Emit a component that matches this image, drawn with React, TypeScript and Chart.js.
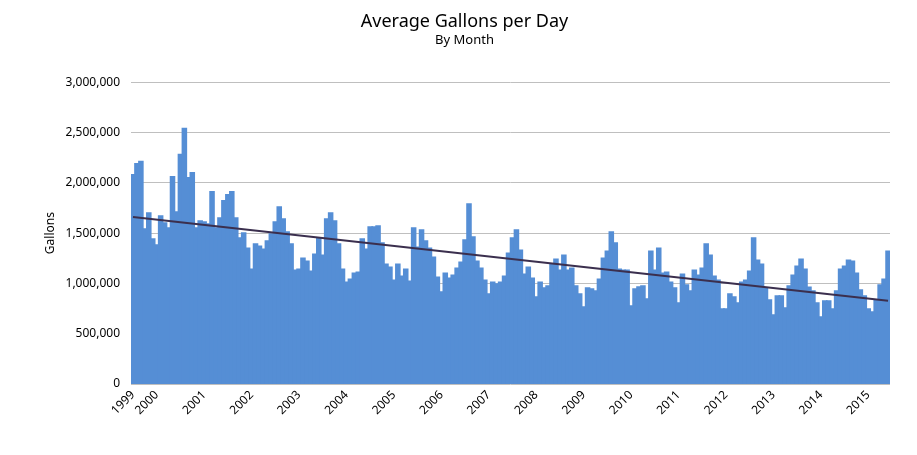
import React, { useEffect, useRef } from 'react';
import { Chart, registerables } from 'chart.js';

Chart.register(...registerables);

const startYear = 1999;
const startMonthIndex = 6; // July
const monthNames = ['Jan', 'Feb', 'Mar', 'Apr', 'May', 'Jun', 'Jul', 'Aug', 'Sep', 'Oct', 'Nov', 'Dec'];
const yearLabels = ['1999', '2000', '2001', '2002', '2003', '2004', '2005', '2006', '2007', '2008', '2009', '2010', '2011', '2012', '2013', '2014', '2015'];

const gallons = [
  2080000, 2190000, 2210000, 1540000, 1700000, 1440000,
  1380000, 1670000, 1600000, 1550000, 2060000, 1710000, 2280000, 2540000, 2050000, 2100000, 1550000, 1620000,
  1610000, 1590000, 1910000, 1550000, 1650000, 1820000, 1880000, 1910000, 1650000, 1450000, 1500000, 1350000,
  1140000, 1390000, 1370000, 1340000, 1420000, 1490000, 1610000, 1760000, 1640000, 1510000, 1390000, 1130000,
  1140000, 1250000, 1220000, 1120000, 1290000, 1450000, 1280000, 1640000, 1700000, 1620000, 1390000, 1140000,
  1010000, 1040000, 1100000, 1110000, 1440000, 1340000, 1560000, 1560000, 1570000, 1400000, 1190000, 1160000,
  1030000, 1190000, 1070000, 1140000, 1020000, 1550000, 1360000, 1530000, 1420000, 1350000, 1260000, 1060000,
  915000, 1100000, 1050000, 1080000, 1150000, 1210000, 1430000, 1790000, 1460000, 1220000, 1150000, 1030000,
  895000, 1010000, 994000, 1010000, 1070000, 1300000, 1450000, 1530000, 1330000, 1090000, 1160000, 1050000,
  865000, 1010000, 954000, 974000, 1190000, 1240000, 1130000, 1280000, 1130000, 1150000, 974000, 895000,
  765000, 954000, 944000, 924000, 1040000, 1250000, 1320000, 1510000, 1400000, 1140000, 1130000, 1130000,
  775000, 944000, 964000, 974000, 845000, 1320000, 1130000, 1350000, 1100000, 1110000, 1010000, 954000,
  805000, 1090000, 984000, 924000, 1130000, 1080000, 1150000, 1390000, 1280000, 1070000, 1030000, 745000,
  745000, 895000, 865000, 805000, 1010000, 1030000, 1120000, 1450000, 1230000, 1190000, 954000, 835000,
  686000, 875000, 875000, 755000, 974000, 1080000, 1170000, 1240000, 1140000, 960000, 925000, 805000,
  666000, 825000, 825000, 745000, 924000, 1140000, 1170000, 1230000, 1220000, 1100000, 934000, 875000,
  745000, 716000, 835000, 984000, 1040000, 1320000,
];

const trendStart = 1660000;
const trendEnd = 828000;

const yMin = 0;
const yMax = 3000000;
const yStep = 500000;

const categories = gallons.map((_, i) => {
  const m = (startMonthIndex + i) % 12;
  const y = startYear + Math.floor((startMonthIndex + i) / 12);
  return `${monthNames[m]} ${y}`;
});

const trendData = gallons.map((_, i) =>
  i === 0 ? trendStart : i === gallons.length - 1 ? trendEnd : null
);

export default function App() {
  const canvasRef = useRef<HTMLCanvasElement | null>(null);

  useEffect(() => {
    document.body.style.margin = '0';
    const canvas = canvasRef.current;
    if (!canvas) return;
    const font = "'Noto Sans', sans-serif";
    const chart = new Chart(canvas, {
      type: 'bar',
      data: {
        labels: categories,
        datasets: [
          {
            type: 'line',
            label: 'Trend',
            data: trendData,
            borderColor: '#3B2F4E',
            borderWidth: 2,
            pointRadius: 0,
            spanGaps: true,
            fill: false,
            order: 0,
          } as any,
          {
            type: 'bar',
            label: 'Average Gallons per Day',
            data: gallons,
            backgroundColor: '#558ED5',
            borderWidth: 0,
            inflateAmount: 0.8,
            categoryPercentage: 1,
            barPercentage: 1,
            order: 1,
          } as any,
        ],
      },
      options: {
        animation: false,
        responsive: false,
        devicePixelRatio: 1,
        layout: { padding: { left: 39, right: 27, top: 0, bottom: 0 } },
        plugins: {
          legend: { display: false },
          tooltip: { enabled: false },
          title: {
            display: true,
            text: 'Average Gallons per Day',
            color: '#000',
            font: { family: font, size: 18, weight: 'normal' },
            padding: { top: 11, bottom: 0 },
          },
          subtitle: {
            display: true,
            text: 'By Month',
            color: '#000',
            font: { family: font, size: 13, weight: 'normal' },
            padding: { top: 0, bottom: 34 },
          },
        },
        scales: {
          x: {
            offset: true,
            grid: { display: false, drawTicks: false },
            border: { display: false },
            ticks: {
              autoSkip: false,
              minRotation: 45,
              maxRotation: 45,
              padding: 4,
              color: '#000',
              font: { family: font, size: 12 },
              callback: (_v: any, i: number) => {
                const m = (startMonthIndex + i) % 12;
                const y = startYear + Math.floor((startMonthIndex + i) / 12);
                return i === 0 || m === 0 ? yearLabels[y - startYear] : '';
              },
            },
            afterFit: (s: any) => {
              s.height = 71;
            },
          },
          y: {
            min: yMin,
            max: yMax,
            grid: { color: '#BFBFBF', lineWidth: 1, drawTicks: false },
            border: { display: false },
            ticks: {
              stepSize: yStep,
              padding: 11,
              color: '#000',
              font: { family: font, size: 12 },
              callback: (v: any) => Number(v).toLocaleString('en-US'),
            },
            title: {
              display: true,
              text: 'Gallons',
              color: '#000',
              font: { family: font, size: 12 },
              padding: { top: 4, bottom: 4 },
            },
            afterFit: (s: any) => {
              s.width = 92;
            },
          },
        },
      },
    });
    return () => chart.destroy();
  }, []);

  return (
    <div style={{ width: 917, height: 455 }}>
      <canvas ref={canvasRef} width={917} height={455} style={{ display: 'block' }} />
    </div>
  );
}
